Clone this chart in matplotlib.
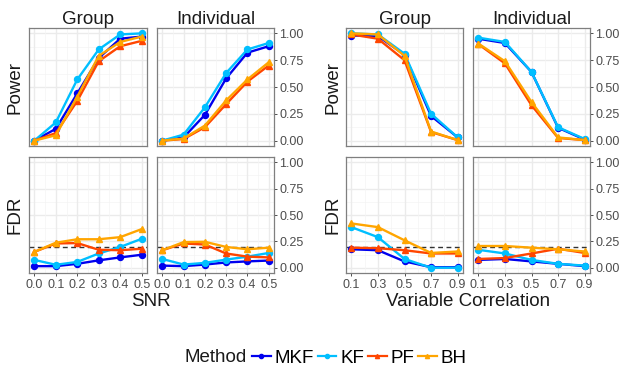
import matplotlib
matplotlib.use('Agg')
import matplotlib.pyplot as plt
from matplotlib.lines import Line2D

plt.rcParams['font.family'] = ['Liberation Sans', 'DejaVu Sans']

methods = ['MKF', 'KF', 'PF', 'BH']
colors = {'MKF': '#0000EE', 'KF': '#00BFFF', 'PF': '#FF4500', 'BH': '#FFA500'}
markers = {'MKF': 'o', 'KF': 'o', 'PF': '^', 'BH': '^'}

snr = [0.0, 0.1, 0.2, 0.3, 0.4, 0.5]
corr = [0.1, 0.3, 0.5, 0.7, 0.9]

# power vs SNR
power_snr_group = {
    'MKF': [0.0, 0.11, 0.44, 0.77, 0.95, 0.97],
    'KF': [0.0, 0.17, 0.57, 0.85, 0.99, 1.0],
    'PF': [0.0, 0.07, 0.37, 0.74, 0.88, 0.93],
    'BH': [0.0, 0.05, 0.41, 0.79, 0.92, 0.97],
}
power_snr_indiv = {
    'MKF': [0.0, 0.03, 0.24, 0.58, 0.82, 0.88],
    'KF': [0.0, 0.056, 0.31, 0.63, 0.85, 0.91],
    'PF': [0.0, 0.015, 0.125, 0.34, 0.55, 0.70],
    'BH': [0.0, 0.02, 0.14, 0.375, 0.57, 0.73],
}
# FDR vs SNR
fdr_snr_group = {
    'MKF': [0.015, 0.015, 0.037, 0.07, 0.098, 0.123],
    'KF': [0.074, 0.028, 0.055, 0.135, 0.197, 0.274],
    'PF': [0.15, 0.23, 0.234, 0.17, 0.166, 0.18],
    'BH': [0.15, 0.237, 0.27, 0.27, 0.29, 0.366],
}
fdr_snr_indiv = {
    'MKF': [0.02, 0.015, 0.03, 0.05, 0.06, 0.068],
    'KF': [0.083, 0.03, 0.046, 0.077, 0.105, 0.14],
    'PF': [0.166, 0.23, 0.22, 0.135, 0.105, 0.098],
    'BH': [0.166, 0.243, 0.246, 0.197, 0.175, 0.19],
}
# power vs correlation
power_corr_group = {
    'MKF': [0.98, 0.975, 0.80, 0.23, 0.03],
    'KF': [1.0, 0.99, 0.81, 0.25, 0.03],
    'PF': [0.99, 0.95, 0.75, 0.08, 0.005],
    'BH': [1.0, 0.99, 0.79, 0.085, 0.005],
}
power_corr_indiv = {
    'MKF': [0.95, 0.91, 0.64, 0.12, 0.01],
    'KF': [0.96, 0.92, 0.64, 0.125, 0.015],
    'PF': [0.90, 0.72, 0.33, 0.025, 0.005],
    'BH': [0.905, 0.74, 0.36, 0.03, 0.005],
}
# FDR vs correlation
fdr_corr_group = {
    'MKF': [0.175, 0.166, 0.06, 0.005, 0.005],
    'KF': [0.385, 0.29, 0.083, 0.0, 0.0],
    'PF': [0.19, 0.185, 0.166, 0.135, 0.135],
    'BH': [0.42, 0.385, 0.26, 0.14, 0.154],
}
fdr_corr_indiv = {
    'MKF': [0.074, 0.083, 0.06, 0.037, 0.015],
    'KF': [0.17, 0.135, 0.074, 0.037, 0.02],
    'PF': [0.083, 0.092, 0.135, 0.18, 0.14],
    'BH': [0.206, 0.206, 0.19, 0.175, 0.154],
}
fdr_target = 0.2

W, H = 620, 367
fig = plt.figure(figsize=(6.2, 3.67), dpi=100)
big = 13.5


def make_ax(x0, x1, y0, y1):
    return fig.add_axes([x0 / W, 1 - y1 / H, (x1 - x0) / W, (y1 - y0) / H])


def draw(ax, xs, data, xticks, xlim, minor_x, top, right, title=None, fdr=False):
    ax.set_facecolor('white')
    for v in [0.125, 0.375, 0.625, 0.875]:
        ax.axhline(v, color='#F4F4F4', lw=0.5, zorder=0)
    for v in [0, 0.25, 0.5, 0.75, 1.0]:
        ax.axhline(v, color='#EBEBEB', lw=1.0, zorder=0)
    for v in minor_x:
        ax.axvline(v, color='#F4F4F4', lw=0.5, zorder=0)
    for v in xticks:
        ax.axvline(v, color='#EBEBEB', lw=1.0, zorder=0)
    if fdr:
        ax.axhline(fdr_target, color='#333333', lw=1.0, ls=(0, (3.5, 2.5)), zorder=1)
    for m in methods:
        ax.plot(xs, data[m], color=colors[m], marker=markers[m], ms=4.3,
                lw=1.7, zorder=2)
    ax.set_xlim(*xlim)
    ax.set_ylim(-0.05, 1.05)
    ax.set_xticks(xticks)
    ax.set_yticks([0, 0.25, 0.5, 0.75, 1.0])
    for s in ax.spines.values():
        s.set_color('#7F7F7F')
        s.set_linewidth(0.9)
    ax.tick_params(colors='#333333', labelcolor='#4D4D4D', labelsize=9,
                   length=2.5, width=0.6, pad=1.5)
    if top:
        ax.tick_params(axis='x', bottom=False, labelbottom=False)
    else:
        ax.set_xticklabels([('%.1f' % v) for v in xticks])
    if right:
        ax.yaxis.tick_right()
        ax.set_yticklabels(['0.00', '0.25', '0.50', '0.75', '1.00'])
    else:
        ax.tick_params(axis='y', left=False, labelleft=False)
    if title:
        ax.set_title(title, fontsize=big, color='#1A1A1A', pad=3)


snr_lim = (-0.025, 0.525)
snr_minor = [0.05, 0.15, 0.25, 0.35, 0.45]
corr_lim = (0.06, 0.94)
corr_minor = [0.2, 0.4, 0.6, 0.8]

px_left = [(29, 147), (157, 274)]
px_right = [(346, 463), (473, 590)]
top_y = (28, 146)
bot_y = (157, 273)

a = make_ax(*px_left[0], *top_y)
draw(a, snr, power_snr_group, snr, snr_lim, snr_minor, True, False, 'Group')
a = make_ax(*px_left[1], *top_y)
draw(a, snr, power_snr_indiv, snr, snr_lim, snr_minor, True, True, 'Individual')
a = make_ax(*px_left[0], *bot_y)
draw(a, snr, fdr_snr_group, snr, snr_lim, snr_minor, False, False, fdr=True)
a = make_ax(*px_left[1], *bot_y)
draw(a, snr, fdr_snr_indiv, snr, snr_lim, snr_minor, False, True, fdr=True)

a = make_ax(*px_right[0], *top_y)
draw(a, corr, power_corr_group, corr, corr_lim, corr_minor, True, False, 'Group')
a = make_ax(*px_right[1], *top_y)
draw(a, corr, power_corr_indiv, corr, corr_lim, corr_minor, True, True, 'Individual')
a = make_ax(*px_right[0], *bot_y)
draw(a, corr, fdr_corr_group, corr, corr_lim, corr_minor, False, False, fdr=True)
a = make_ax(*px_right[1], *bot_y)
draw(a, corr, fdr_corr_indiv, corr, corr_lim, corr_minor, False, True, fdr=True)

# row and axis labels
for x in [15, 333]:
    fig.text(x / W, 1 - 87 / H, 'Power', rotation=90, fontsize=big,
             color='#1A1A1A', ha='center', va='center')
    fig.text(x / W, 1 - 215 / H, 'FDR', rotation=90, fontsize=big,
             color='#1A1A1A', ha='center', va='center')
fig.text(151 / W, 1 - 301 / H, 'SNR', fontsize=big, color='#1A1A1A',
         ha='center', va='center')
fig.text(468 / W, 1 - 301 / H, 'Variable Correlation', fontsize=big,
         color='#1A1A1A', ha='center', va='center')

# legend
fig.text(216 / W, 1 - 358 / H, 'Method', fontsize=big, color='#1A1A1A',
         ha='center', va='center')
handles = [Line2D([], [], color=colors[m], marker=markers[m], ms=3, lw=1.6)
           for m in methods]
fig.legend(handles, methods, loc='center left', bbox_to_anchor=(252 / W, 1 - 358 / H),
           ncol=4, frameon=False, fontsize=big, handlelength=1.0,
           handletextpad=0.2, columnspacing=0.2, borderaxespad=0, borderpad=0)

fig.savefig('out.png', dpi=100)
